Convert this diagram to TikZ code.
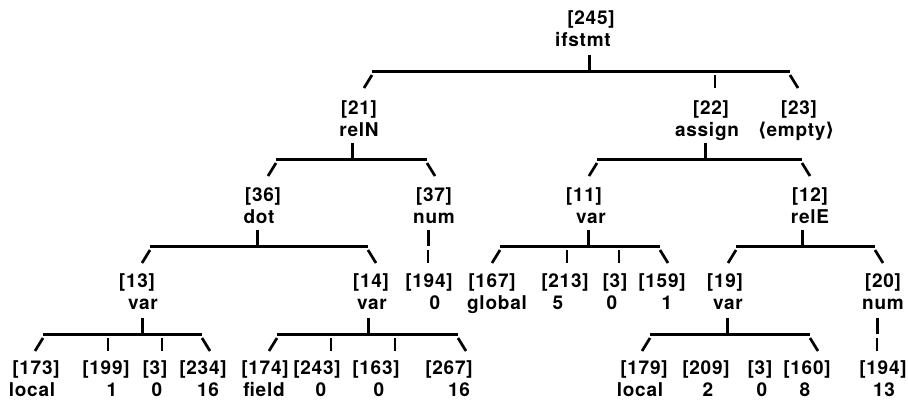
\documentclass[tikz,border=0pt]{standalone}
\usepackage{fontspec}
\setmainfont{TeX Gyre Heros}[LetterSpace=4]
\newfontfamily\anglefont{DejaVu Sans}
\begin{document}
\begin{tikzpicture}[x=1pt,y=-1pt,
  lbl/.style={inner sep=0pt, anchor=base, font=\bfseries\fontsize{19}{22}\selectfont},
  link/.style={line width=3pt},
  tick/.style={line width=2.7pt}]
\useasboundingbox (0,0) rectangle (908,400);
% a tree node: index label above, kind/value below
\newcommand\treelabel[6]{%
  \node[lbl] (#1) at (#2,#6) {#3};
  \node[lbl] (#1t) at (#4,#6+22) {#5};}
% a family: stem under the parent, bar, "/" to first child, "\" to last child
\newcommand\family[5]{%
  \coordinate (#1s) at (#2,#3);
  \coordinate (#1l) at (#4,#3);
  \coordinate (#1r) at (#5,#3);
  \draw[link] (#1s) -- ++(0,-16);
  \draw[link] (#1l) -- (#1r);
  \draw[tick] ([yshift=-4pt]#1l) -- ++(-8,13);
  \draw[tick] ([yshift=-4pt]#1r) -- ++(8,13);}
\newcommand\midtick[2]{\draw[tick] (#1,#2+4) -- (#1,#2+17);}
\newcommand\onlychild[2]{\draw[link] (#1,#2) -- ++(0,-16); \draw[tick] (#1,#2+4) -- (#1,#2+17);}

% labels
\treelabel{r}{591}{[245]}{583}{ifstmt}{24}
\treelabel{a1}{359}{[21]}{359}{relN}{114}
\treelabel{a2}{711}{[22]}{707}{assign}{114}
\treelabel{a3}{799}{[23]}{796}{{\anglefont ⟨}empty{\anglefont ⟩}}{114}
\treelabel{b1}{263}{[36]}{259}{dot}{201}
\treelabel{b2}{434}{[37]}{434}{num}{201}
\treelabel{b3}{584}{[11]}{591}{var}{201}
\treelabel{b4}{810}{[12]}{810}{relE}{201}
\treelabel{c1}{137}{[13]}{143}{var}{287}
\treelabel{c2}{371}{[14]}{372}{var}{287}
\treelabel{c3}{429}{[194]}{435}{0}{287}
\treelabel{c4}{492}{[167]}{497}{global}{287}
\treelabel{c5}{565}{[213]}{558}{5}{287}
\treelabel{c6}{615}{[3]}{612}{0}{287}
\treelabel{c7}{662}{[159]}{667}{1}{287}
\treelabel{c8}{725}{[19]}{728}{var}{287}
\treelabel{c9}{883}{[20]}{883}{num}{287}
\treelabel{d1}{36}{[173]}{32}{local}{374}
\treelabel{d2}{106}{[199]}{112}{1}{374}
\treelabel{d3}{155}{[3]}{157}{0}{374}
\treelabel{d4}{203}{[234]}{208}{16}{374}
\treelabel{d5}{265}{[174]}{264}{field}{374}
\treelabel{d6}{317}{[243]}{321}{0}{374}
\treelabel{d7}{376}{[163]}{379}{0}{374}
\treelabel{d8}{449}{[267]}{459}{16}{374}
\treelabel{d9}{644}{[179]}{640}{local}{374}
\treelabel{d10}{706}{[209]}{708}{2}{374}
\treelabel{d11}{760}{[3]}{762}{0}{374}
\treelabel{d12}{807}{[160]}{805}{8}{374}
\treelabel{d13}{883}{[194]}{884}{13}{374}

% connectors
\family{F0}{589}{71}{372}{790}
\midtick{715}{71}
\family{F1}{352}{159}{276}{427}
\family{F2}{705}{159}{597}{802}
\family{F3}{257}{246}{150}{368}
\onlychild{428}{246}
\family{F5}{588}{246}{500}{660}
\midtick{567}{246}
\midtick{619}{246}
\family{F6}{802}{246}{736}{875}
\family{F7}{142}{334}{43}{202}
\midtick{108}{334}
\midtick{162}{334}
\family{F8}{368}{334}{277}{458}
\midtick{331}{334}
\midtick{395}{334}
\family{F9}{727}{334}{650}{810}
\onlychild{877}{334}
\end{tikzpicture}
\end{document}
